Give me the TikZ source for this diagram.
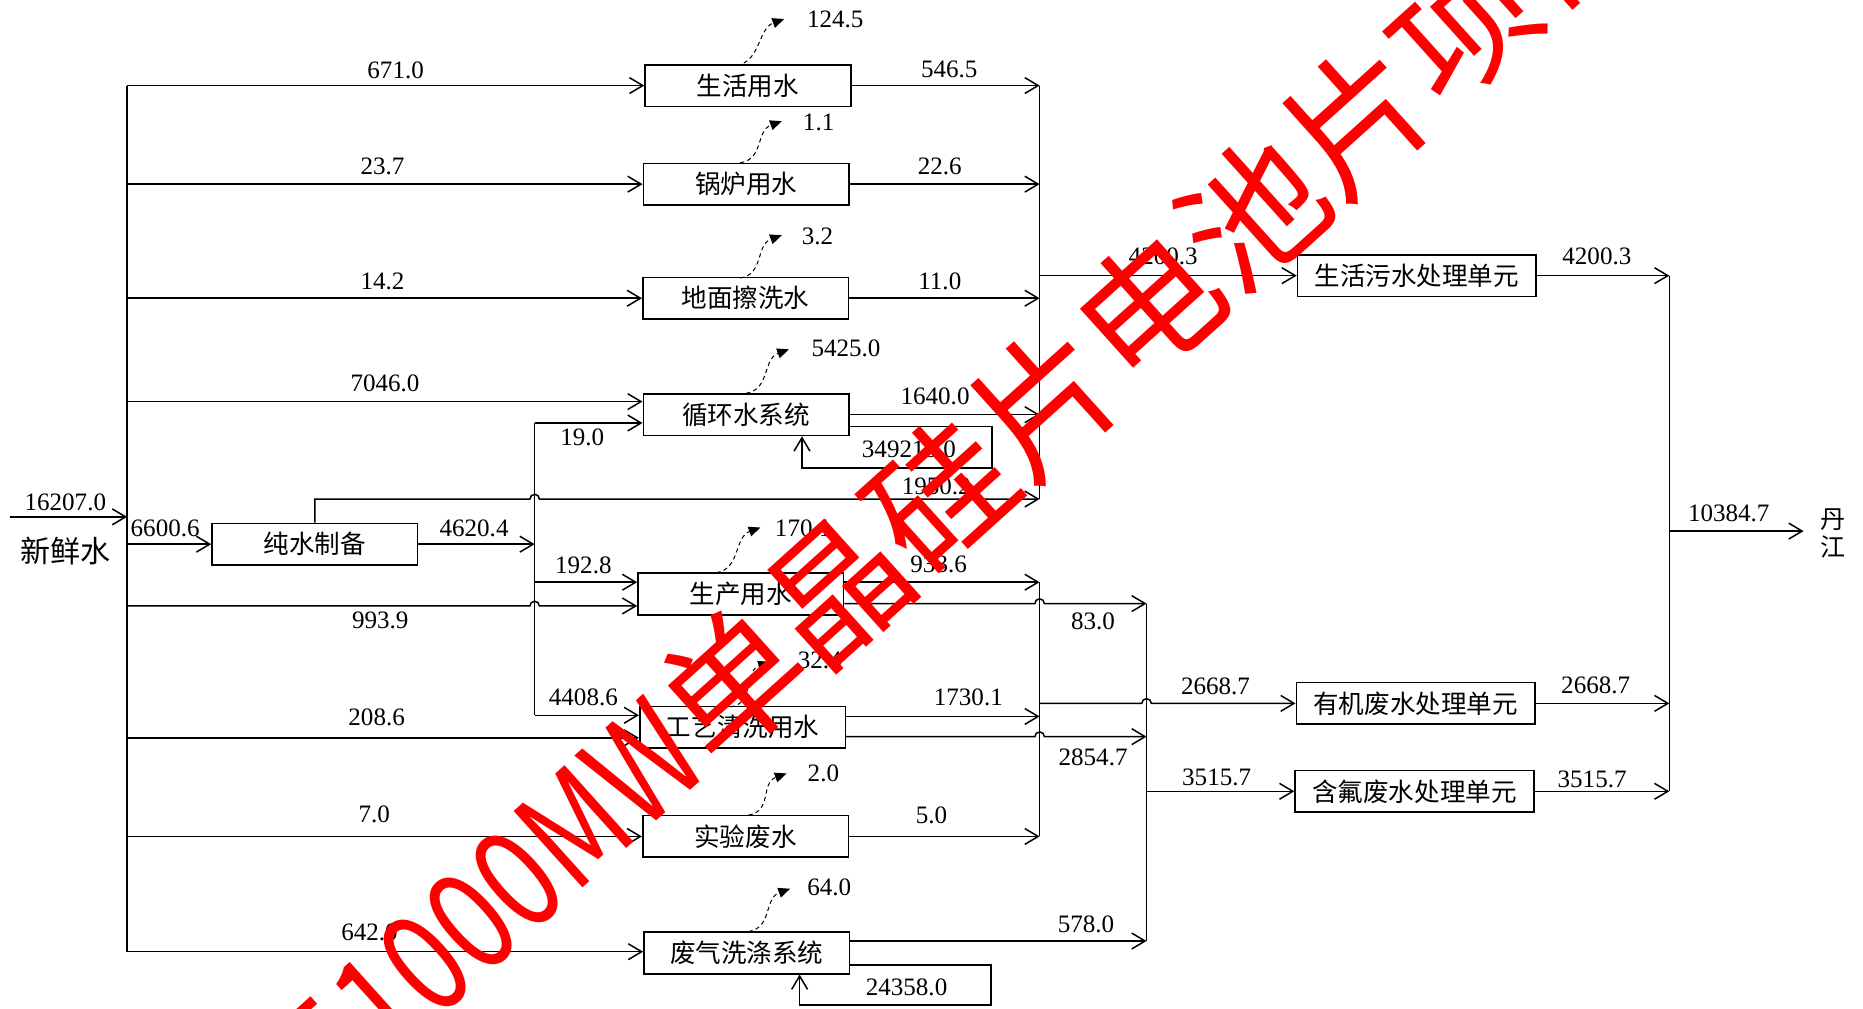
\documentclass[tikz,border=0pt]{standalone}
\usepackage{fontspec}
\usepackage{graphicx}
\setmainfont{Liberation Serif}
\newfontfamily\cjk{Noto Sans CJK SC}
\usetikzlibrary{arrows.meta}
\begin{document}
\begin{tikzpicture}[x=0.025cm,y=-0.025cm,line width=0.9pt,
  arr/.style={-{Straight Barb[length=8pt,width=9.5pt,line width=0.9pt]}},
  box/.style={draw,line width=1pt,inner sep=0pt,minimum height=0.875cm,minimum width=4.325cm,font=\cjk\fontsize{15.3}{17}\selectfont},
  wbox/.style={box,minimum width=5.02cm},
  num/.style={font=\fontsize{15}{17}\selectfont,inner sep=0pt},
  cj/.style={font=\cjk\fontsize{15}{17}\selectfont,inner sep=0pt},
  evap/.style={line width=0.6pt,dash pattern=on 2.5pt off 2pt,-{Triangle[length=7pt,width=6pt]}}]
\useasboundingbox (0,0) rectangle (1568,849);
% ---------- boxes
\node[box] (b1) at (629.5,72) {生活用水};
\node[box] (b2) at (628,155) {锅炉用水};
\node[box] (b3) at (627.5,251) {地面擦洗水};
\node[box] (b4) at (628,349) {循环水系统};
\node[box] (b5) at (265,458) {纯水制备};
\node[box] (b6) at (623.5,500) {生产用水};
\node[box] (b7) at (625,612) {工艺清洗用水};
\node[box] (b8) at (627.5,704) {实验废水};
\node[box] (b9) at (628.5,802) {废气洗涤系统};
\node[wbox] (t1) at (1192.5,232) {生活污水处理单元};
\node[wbox] (t2) at (1191.5,592) {有机废水处理单元};
\node[wbox] (t3) at (1190.5,666) {含氟废水处理单元};
% ---------- fresh water trunk
\coordinate (Src) at (8,435);
\coordinate (T72) at (107,72);
\coordinate (T155) at (107,155);
\coordinate (T251) at (107,251);
\coordinate (T338) at (107,338);
\coordinate (T435) at (107,435);
\coordinate (T458) at (107,458);
\coordinate (T510) at (107,510);
\coordinate (T621) at (107,621);
\coordinate (T704) at (107,704);
\coordinate (T801) at (107,801);
\draw (T72) -- (T801);
\draw[arr] (Src) -- (T435);
\node[num] (l16207) at (55,423) {16207.0};
\node[cj,font=\cjk\fontsize{18}{20}\selectfont] (lfresh) at (55,464) {新鲜水};
\draw[arr] (T72) -- (b1.west);
\draw[arr] (T155) -- (b2.west);
\draw[arr] (T251) -- (b3.west);
\draw[arr] (T338) -- (T338 -| b4.west);
\draw[arr] (T458) -- (b5.west);
\draw[arr] (T510) -- (446,510) arc[start angle=180,end angle=0,radius=0.1cm] -- (T510 -| b6.west);
\draw[arr] (T621) -- (T621 -| b7.west);
\draw[arr] (T704) -- (b8.west);
\draw[arr] (T801) -- (T801 -| b9.west);
\node[num] (l671) at (333,59) {671.0};
\node[num] (l237) at (322,140) {23.7};
\node[num] (l142) at (322,237) {14.2};
\node[num] (l7046) at (324,323) {7046.0};
\node[num] (l6600) at (139,445) {6600.6};
\node[num] (l9939) at (320,522) {993.9};
\node[num] (l2086) at (317,604) {208.6};
\node[num] (l70) at (315,685) {7.0};
\node[num] (l642) at (311,785) {642.0};
% ---------- pure water distribution
\coordinate (M356) at (450,356);
\coordinate (M458) at (450,458);
\coordinate (M490) at (450,490);
\coordinate (M602) at (450,602);
\draw (M356) -- (M602);
\draw[arr] (b5.east) -- (M458);
\draw[arr] (M356) -- (M356 -| b4.west);
\draw[arr] (M490) -- (M490 -| b6.west);
\draw[arr] (M602) -- (M602 -| b7.west);
\node[num] (l4620) at (399,445) {4620.4};
\node[num] (l190) at (490,368) {19.0};
\node[num] (l1928) at (491,476) {192.8};
\node[num] (l4408) at (491,587) {4408.6};
% ---------- collector A
\coordinate (A72) at (875,72);
\coordinate (A155) at (875,155);
\coordinate (A232) at (875,232);
\coordinate (A251) at (875,251);
\coordinate (A349) at (875,349);
\coordinate (A420) at (875,420);
\coordinate (P420) at (265,420);
\draw (A72) -- (A420);
\draw[arr] (b1.east) -- (A72);
\draw[arr] (b2.east) -- (A155);
\draw[arr] (b3.east) -- (A251);
\draw[arr] (b4.east) -- (A349);
\draw[arr] (b5.north) -- (P420) -- (446,420) arc[start angle=180,end angle=0,radius=0.1cm] -- (A420);
\coordinate (L1) at (835,359);
\coordinate (L2) at (835,394);
\coordinate (L3) at (675,394);
\draw[arr] (b4.east |- L1) -- (L1) -- (L2) -- (L3) -- (L3 |- b4.south);
\draw[arr] (A232) -- (t1.west);
\node[num] (l5465) at (799,58) {546.5};
\node[num] (l226) at (791,140) {22.6};
\node[num] (l110) at (791,237) {11.0};
\node[num] (l1640) at (787,334) {1640.0};
\node[num] (l349210) at (765,378) {349210.0};
\node[num] (l1950) at (788,409) {1950.2};
\node[num] (l4200a) at (979,216) {4200.3};
% ---------- collector B
\coordinate (B490) at (875,490);
\coordinate (B592) at (875,592);
\coordinate (B603) at (875,603);
\coordinate (B704) at (875,704);
\coordinate (C508) at (965,508);
\coordinate (C620) at (965,620);
\coordinate (C666) at (965,666);
\coordinate (C792) at (965,792);
\draw (B490) -- (B704);
\draw[arr] (b6.east |- B490) -- (B490);
\draw[arr] (b6.east |- C508) -- (871,508) arc[start angle=180,end angle=0,radius=0.1cm] -- (C508);
\draw[arr] (b7.east |- B603) -- (B603);
\draw[arr] (b7.east |- C620) -- (871,620) arc[start angle=180,end angle=0,radius=0.1cm] -- (C620);
\draw[arr] (b8.east) -- (B704);
\draw[arr] (B592) -- (961,592) arc[start angle=180,end angle=0,radius=0.1cm] -- (t2.west);
\node[num] (l9336) at (790,475) {933.6};
\node[num] (l830) at (920,523) {83.0};
\node[num] (l1730) at (815,587) {1730.1};
\node[num] (l2854) at (920,637) {2854.7};
\node[num] (l50) at (784,686) {5.0};
\node[num] (l2668a) at (1023,578) {2668.7};
% ---------- collector C
\draw (C508) -- (C792);
\draw[arr] (b9.east |- C792) -- (C792);
\draw[arr] (C666) -- (t3.west);
\coordinate (W1) at (834,812);
\coordinate (W2) at (834,846);
\coordinate (W3) at (673,846);
\draw[arr] (b9.east |- W1) -- (W1) -- (W2) -- (W3) -- (W3 |- b9.south);
\node[num] (l578) at (914,778) {578.0};
\node[num] (l24358) at (763,831) {24358.0};
\node[num] (l3515a) at (1024,654) {3515.7};
% ---------- collector D
\coordinate (D232) at (1405,232);
\coordinate (D447) at (1405,447);
\coordinate (D592) at (1405,592);
\coordinate (D666) at (1405,666);
\coordinate (Out) at (1518,447);
\draw (D232) -- (D666);
\draw[arr] (t1.east) -- (D232);
\draw[arr] (t2.east) -- (D592);
\draw[arr] (t3.east) -- (D666);
\draw[arr] (D447) -- (Out);
\node[num] (l4200b) at (1344,216) {4200.3};
\node[num] (l2668b) at (1343,577) {2668.7};
\node[num] (l3515b) at (1340,656) {3515.7};
\node[num] (l10384) at (1455,432) {10384.7};
\node[cj] (ldan) at (1543,437) {丹};
\node[cj] (ljiang) at (1543,460) {江};
% ---------- evaporation / losses
\coordinate (e1) at (660,16);
\coordinate (e2) at (658,102);
\coordinate (e3) at (658,198);
\coordinate (e4) at (664,294);
\coordinate (e6) at (640,444);
\coordinate (e7) at (648,557);
\coordinate (e8) at (662,651);
\coordinate (e9) at (665,748);
\draw[evap] (620,55) .. controls (640,52) and (638,24) .. (e1);
\draw[evap] (623,137) .. controls (643,134) and (636,110) .. (e2);
\draw[evap] (623,234) .. controls (643,231) and (636,206) .. (e3);
\draw[evap] (628,331) .. controls (648,328) and (642,302) .. (e4);
\draw[evap] (603,482) .. controls (623,479) and (618,452) .. (e6);
\draw[evap] (615,595) .. controls (635,592) and (626,565) .. (e7);
\draw[evap] (630,686) .. controls (650,683) and (640,659) .. (e8);
\draw[evap] (630,784) .. controls (650,781) and (643,756) .. (e9);
\node[num] (v1) at (703,16) {124.5};
\node[num] (v2) at (689,103) {1.1};
\node[num] (v3) at (688,199) {3.2};
\node[num] (v4) at (712,293) {5425.0};
\node[num] (v6) at (676,445) {170.1};
\node[num] (v7) at (690,556) {32.4};
\node[num] (v8) at (693,651) {2.0};
\node[num] (v9) at (698,747) {64.0};
% ---------- watermark
\begin{scope}
\clip (0,0) rectangle (1568,849);
\node[text=red,font=\cjk\fontsize{84}{84}\selectfont,rotate=42,inner sep=0pt] (wm) at (742,461) {年产\scalebox{0.8}[1]{1000MW}单晶硅片电池片项目};
\end{scope}
\end{tikzpicture}
\end{document}
